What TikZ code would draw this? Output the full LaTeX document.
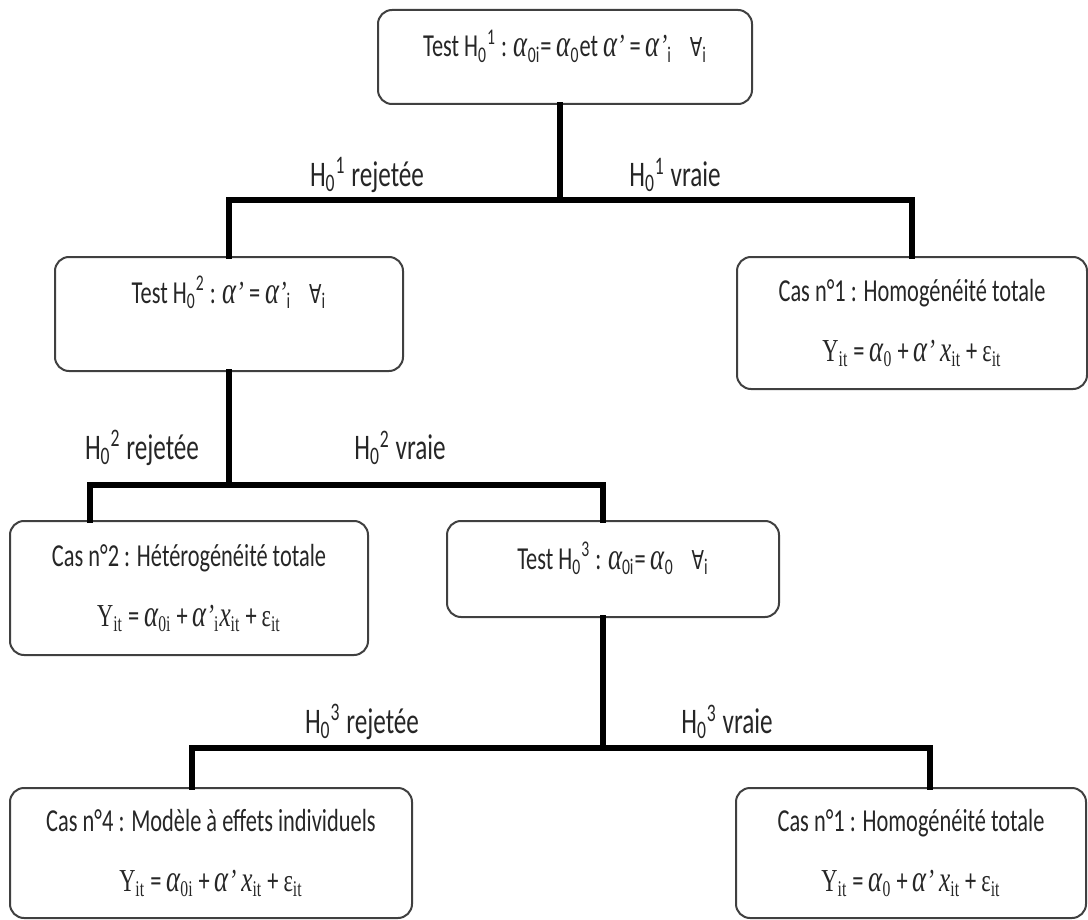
\documentclass[tikz,border=0pt]{standalone}
\usepackage{fontspec}
\setmainfont[FakeStretch=0.7]{Carlito}
\newfontfamily\frm[FakeStretch=0.7]{Liberation Serif}
\newfontfamily\dvs[FakeStretch=0.7]{DejaVu Sans}
\newcommand{\alp}{{\frm\itshape\fontsize{19}{20}\selectfont α}}
\newcommand{\apos}{{\frm\itshape’}}
\newcommand{\pourtout}{\hspace{9pt}{\dvs\fontsize{13}{14}\selectfont ∀}\textsubscript{i}}
\newcommand{\yit}{{\frm Y\textsubscript{it}}}
\newcommand{\xit}{{\frm\itshape\fontsize{18}{20}\selectfont x}{\frm\textsubscript{it}}}
\newcommand{\eit}{{\frm ε\textsubscript{it}}}
\newcommand{\hyp}[1]{H\textsubscript{0}\textsuperscript{#1}}
\tikzset{
	box/.style={draw=black!75, line width=1pt, rounded corners=7pt, inner sep=0pt, align=center, text=black!85, font=\fontsize{16}{19}\selectfont},
	link/.style={line width=3pt, line cap=rect},
	lbl/.style={text=black!85, font=\fontsize{18}{20}\selectfont}
}

\begin{document}
\begin{tikzpicture}[x=0.5pt, y=-0.5pt]
	\useasboundingbox (0,0) rectangle (1088,920);
	%tests
	\node (t1) [box, minimum width=187pt, minimum height=47pt, text height=0pt, text depth=0pt] at (565,57)
		{Test \hyp{1} : \alp\textsubscript{0i}= \alp\textsubscript{0}et \alp\apos{} = \alp\apos\textsubscript{i}\pourtout};
	\node (t2) [box, minimum width=174pt, minimum height=57pt, text height=0pt, text depth=11pt] at (229,314)
		{Test \hyp{2} : \alp\apos{} = \alp\apos\textsubscript{i}\pourtout};
	\node (t3) [box, minimum width=166pt, minimum height=48pt, text height=0pt, text depth=0pt] at (613,569)
		{Test \hyp{3} : \alp\textsubscript{0i}= \alp\textsubscript{0}\pourtout};

	%cases
	\node (c1) [box, minimum width=175pt, minimum height=66pt] at (912,323)
		{Cas n°1 : Homogénéité totale\\[11pt] \yit{} = \alp{\frm\textsubscript{0}} + \alp\apos{} \xit{} + \eit};
	\node (c2) [box, minimum width=179pt, minimum height=67pt] at (189,588)
		{Cas n°2 : Hétérogénéité totale\\[11pt] \yit{} = \alp{\frm\textsubscript{0i}} + \alp\apos{\frm\textsubscript{i}}\xit{} + \eit};
	\node (c4) [box, minimum width=201pt, minimum height=65pt] at (211,853)
		{Cas n°4 : Modèle à effets individuels\\[11pt] \yit{} = \alp{\frm\textsubscript{0i}} + \alp\apos{} \xit{} + \eit};
	\node (c5) [box, minimum width=175pt, minimum height=65pt] at (911,853)
		{Cas n°1 : Homogénéité totale\\[11pt] \yit{} = \alp{\frm\textsubscript{0}} + \alp\apos{} \xit{} + \eit};

	%links
	\coordinate (j1) at (560,200);
	\draw[link] (t1.south -| j1) -- (j1);
	\draw[link] (t2.north) |- (j1) -| (c1.north);
	\coordinate (j2) at (t2.south |- 0,485);
	\draw[link] (t2.south) -- (j2);
	\draw[link] (c2.north -| 90,0) |- (j2) -| (t3.north -| 603,0);
	\coordinate (j3) at (603,748);
	\draw[link] (t3.south -| j3) -- (j3);
	\draw[link] (c4.north -| 192,0) |- (j3) -| (c5.north -| 930,0);

	%labels
	\node (r1) [lbl] at (367,175) {\hyp{1} rejetée};
	\node (v1) [lbl] at (675,175) {\hyp{1} vraie};
	\node (r2) [lbl] at (142,448) {\hyp{2} rejetée};
	\node (v2) [lbl] at (400,448) {\hyp{2} vraie};
	\node (r3) [lbl] at (362,722) {\hyp{3} rejetée};
	\node (v3) [lbl] at (727,722) {\hyp{3} vraie};
\end{tikzpicture}
\end{document}
